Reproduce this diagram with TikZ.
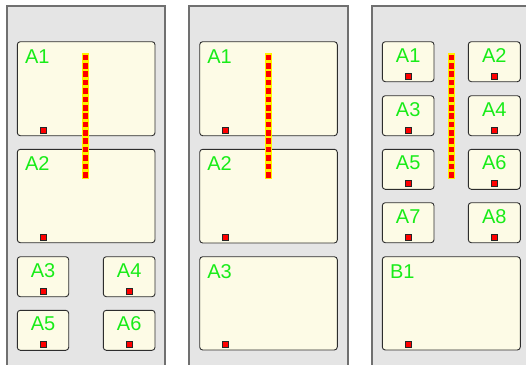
\documentclass[tikz,border=0pt]{standalone}
\usepackage{fontspec}
\setmainfont{Liberation Sans}
\usetikzlibrary{calc}
\definecolor{panelfill}{RGB}{229,229,229}
\definecolor{panelline}{RGB}{112,112,112}
\definecolor{boxfill}{RGB}{253,251,230}
\definecolor{boxline}{RGB}{45,45,45}
\definecolor{lblgreen}{RGB}{24,236,24}
\definecolor{sqred}{RGB}{255,0,0}
\definecolor{stripyellow}{RGB}{255,240,0}
\tikzset{
  panel/.style={fill=panelfill, draw=panelline, line width=2pt},
  cbox/.style={draw=boxline, fill=boxfill, line width=0.9pt, rounded corners=3pt, inner sep=0pt, outer sep=0pt},
  sqmark/.style={draw=black!85, fill=sqred, line width=0.8pt, minimum width=6pt, minimum height=6pt, inner sep=0pt},
  lbl/.style={text=lblgreen, inner sep=0pt, font=\fontsize{20}{24}\selectfont},
}
\newcommand\bigbx[6]{%
  \pgfmathsetmacro\bw{#4-#2}\pgfmathsetmacro\bh{#5-#3}%
  \node[cbox, minimum width=\bw pt, minimum height=\bh pt, anchor=north west] (#1) at (#2,#3) {};
  \node[sqmark] (#1s) at ($(#1.south west)+(25.7,-5.5)$) {};
  \node[lbl, anchor=base west] (#1l) at ($(#1.north west)+(7.5,21.5)$) {#6};
}
\newcommand\smallbx[6]{%
  \pgfmathsetmacro\bw{#4-#2}\pgfmathsetmacro\bh{#5-#3}%
  \node[cbox, minimum width=\bw pt, minimum height=\bh pt, anchor=north west] (#1) at (#2,#3) {};
  \node[sqmark] (#1s) at ($(#1.south west)+(25.7,-5.5)$) {};
  \node[lbl, anchor=base] (#1l) at ($(#1.north)+(0,20.3)$) {#6};
}
\newcommand\strip[1]{%
  \fill[stripyellow] (#1-3.5,53.3) rectangle (#1+3.5,179);
  \foreach \i in {0,...,14}{
    \fill[sqred] (#1-2.5,54.6+8.38*\i) rectangle (#1+2.5,60.3+8.38*\i);
  }
}
\begin{document}
\begin{tikzpicture}[x=1pt,y=-1pt]
\useasboundingbox (0,0) rectangle (526,364);
\begin{scope}
\clip (0,0) rectangle (526,364);
\fill[white] (0,0) rectangle (526,364);
% panels
\draw[panel] (7,6) rectangle (165,372);
\draw[panel] (189.3,6) rectangle (347.7,372);
\draw[panel] (372.3,6) rectangle (540,372);
% panel 1
\bigbx{pa1}{17.3}{41.7}{155}{135.7}{A1}
\bigbx{pa2}{17.3}{149.3}{155}{242.7}{A2}
\smallbx{pa3}{17.3}{256.7}{68.7}{296.7}{A3}
\smallbx{pa4}{103.3}{256.7}{155}{296.7}{A4}
\smallbx{pa5}{17.3}{310.3}{68.7}{350.3}{A5}
\smallbx{pa6}{103.3}{310.3}{155}{350.3}{A6}
\strip{85.8}
% panel 2
\bigbx{qa1}{199.7}{41.7}{337.3}{135.7}{A1}
\bigbx{qa2}{199.7}{149.3}{337.3}{243}{A2}
\bigbx{qa3}{199.7}{256.7}{337.3}{350}{A3}
\strip{268.3}
% panel 3
\smallbx{ra1}{382.3}{41.7}{434}{81.7}{A1}
\smallbx{ra2}{468.3}{41.7}{520.3}{81.7}{A2}
\smallbx{ra3}{382.3}{95.7}{434}{135.7}{A3}
\smallbx{ra4}{468.3}{95.7}{520.3}{135.7}{A4}
\smallbx{ra5}{382.3}{149.3}{434}{189.3}{A5}
\smallbx{ra6}{468.3}{149.3}{520.3}{189.3}{A6}
\smallbx{ra7}{382.3}{202.7}{434}{242.7}{A7}
\smallbx{ra8}{468.3}{202.7}{520.3}{242.7}{A8}
\bigbx{rb1}{382.3}{256.7}{520.3}{350}{B1}
\strip{451}
\end{scope}
\end{tikzpicture}
\end{document}
